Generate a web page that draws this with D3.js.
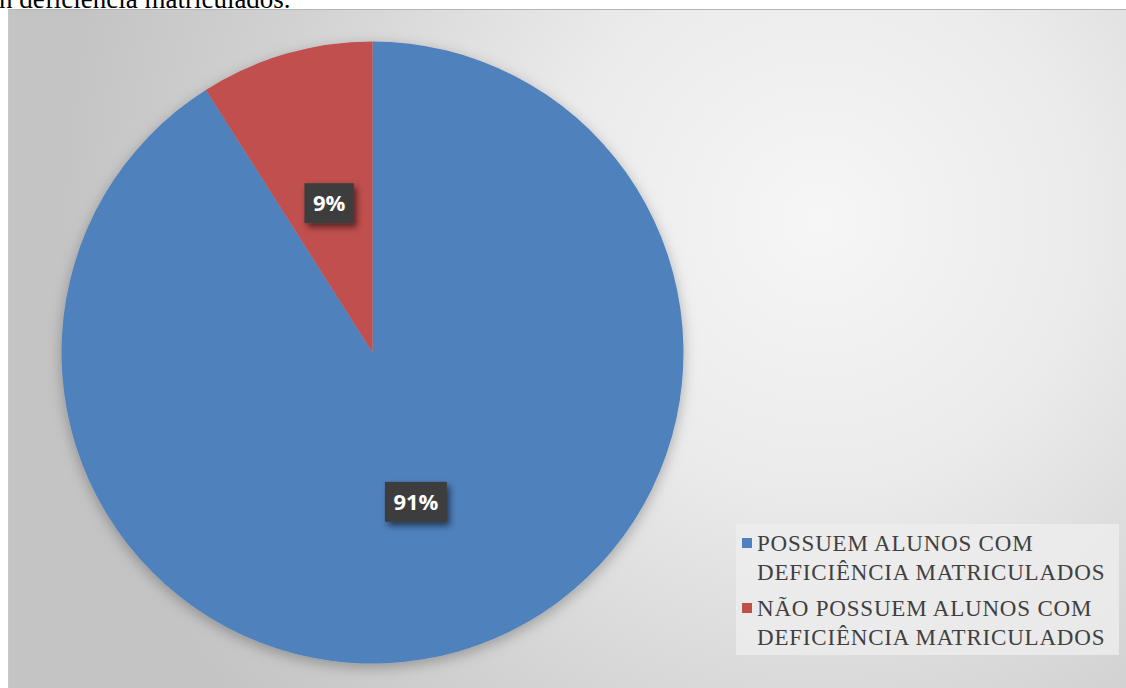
<!DOCTYPE html>
<html>
<head>
<meta charset="utf-8">
<script src="https://cdn.jsdelivr.net/npm/d3@7"></script>
<style>
  html, body { margin: 0; padding: 0; background: #ffffff; }
  svg { display: block; }
</style>
</head>
<body>
<svg id="chart" width="1126" height="688"></svg>
<script>
// Schools with / without enrolled students with disabilities
const categories = [
  ["POSSUEM ALUNOS COM", "DEFICIÊNCIA MATRICULADOS"],
  ["NÃO POSSUEM ALUNOS COM", "DEFICIÊNCIA MATRICULADOS"]
];
const values = [91, 9];
const colors = ["#4f81bd", "#c0504d"];
const captionTail = "n deficiência matriculados.";

const W = 1126, H = 688;
const svg = d3.select("#chart");
const defs = svg.append("defs");

// background radial gradient of the chart area
const grad = defs.append("radialGradient")
  .attr("id", "bgGrad")
  .attr("gradientUnits", "userSpaceOnUse")
  .attr("cx", 820).attr("cy", 220).attr("r", 760);
grad.append("stop").attr("offset", "0%").attr("stop-color", "#f6f6f6");
grad.append("stop").attr("offset", "35%").attr("stop-color", "#ebebeb");
grad.append("stop").attr("offset", "75%").attr("stop-color", "#d1d1d1");
grad.append("stop").attr("offset", "100%").attr("stop-color", "#c4c4c4");

// soft shadow behind the pie
const pieShadow = defs.append("filter").attr("id", "pieShadow")
  .attr("x", "-20%").attr("y", "-20%").attr("width", "140%").attr("height", "140%");
pieShadow.append("feDropShadow")
  .attr("dx", 0).attr("dy", 4).attr("stdDeviation", 7)
  .attr("flood-color", "#000").attr("flood-opacity", 0.28);

// shadow behind the data label boxes
const lblShadow = defs.append("filter").attr("id", "lblShadow")
  .attr("x", "-40%").attr("y", "-40%").attr("width", "180%").attr("height", "180%");
lblShadow.append("feDropShadow")
  .attr("dx", 3).attr("dy", 4).attr("stdDeviation", 3)
  .attr("flood-color", "#000").attr("flood-opacity", 0.55);

// caption fragment above the chart (continues from the previous line)
svg.append("text")
  .attr("x", -1).attr("y", 8)
  .attr("font-family", "'Liberation Serif', 'Times New Roman', serif")
  .attr("font-size", 27)
  .attr("fill", "#000")
  .text(captionTail);

// chart area
svg.append("rect")
  .attr("x", 8).attr("y", 9)
  .attr("width", W - 8).attr("height", H - 9)
  .attr("fill", "url(#bgGrad)");
svg.append("line")
  .attr("x1", 8).attr("x2", W).attr("y1", 9.5).attr("y2", 9.5)
  .attr("stroke", "#b4b4b4").attr("stroke-width", 1);
svg.append("line")
  .attr("x1", 8.5).attr("x2", 8.5).attr("y1", 9).attr("y2", H)
  .attr("stroke", "#c8c8c8").attr("stroke-width", 1);

// pie
const cx = 372.5, cy = 352.5, R = 311;
const pie = d3.pie().sort(null).value(d => d)(values);
const arc = d3.arc().innerRadius(0).outerRadius(R);

const g = svg.append("g").attr("transform", `translate(${cx},${cy})`);
g.append("g").attr("filter", "url(#pieShadow)")
  .selectAll("path")
  .data(pie)
  .join("path")
  .attr("d", arc)
  .attr("fill", (d, i) => colors[i]);

// data labels at slice centroids
const fmt = d3.format(".0%");
const total = d3.sum(values);
const labels = g.selectAll("g.lbl")
  .data(pie)
  .join("g")
  .attr("class", "lbl")
  .attr("transform", d => `translate(${arc.centroid(d)})`);

labels.each(function (d) {
  const sel = d3.select(this);
  const rect = sel.append("rect").attr("fill", "#3d3d3d").attr("filter", "url(#lblShadow)");
  const t = sel.append("text")
    .attr("text-anchor", "middle")
    .attr("dy", "0.36em")
    .attr("font-family", "'Open Sans', 'DejaVu Sans', sans-serif")
    .attr("font-weight", "bold")
    .attr("font-size", 22)
    .attr("fill", "#ffffff")
    .text(fmt(d.data / total));
  const w = t.node().getComputedTextLength() + 17;
  const h = 40;
  rect.attr("x", -w / 2).attr("y", -h / 2).attr("width", w).attr("height", h);
});

// legend
const lg = svg.append("g");
lg.append("rect")
  .attr("x", 736).attr("y", 524)
  .attr("width", 383).attr("height", 131)
  .attr("fill", "#ededed").attr("opacity", 0.8);

const entryY = [551, 616];
const lineGap = 28.5;
categories.forEach((lines, i) => {
  lg.append("rect")
    .attr("x", 742).attr("y", entryY[i] - 13)
    .attr("width", 10).attr("height", 10)
    .attr("fill", colors[i]);
  const t = lg.append("text")
    .attr("font-family", "'Liberation Serif', 'Times New Roman', serif")
    .attr("font-size", 23)
    .attr("letter-spacing", 0.8)
    .attr("fill", "#404040");
  lines.forEach((ln, j) => {
    t.append("tspan")
      .attr("x", 757)
      .attr("y", entryY[i] + j * lineGap)
      .text(ln);
  });
});
</script>
</body>
</html>
